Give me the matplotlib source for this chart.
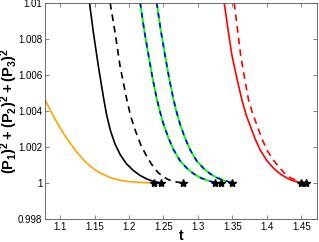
import matplotlib
matplotlib.use('Agg')
import matplotlib.pyplot as plt

plt.rcParams['font.family'] = ['Liberation Sans', 'DejaVu Sans']
plt.rcParams['mathtext.fontset'] = 'custom'
plt.rcParams['mathtext.bf'] = 'Liberation Sans:bold'
plt.rcParams['mathtext.rm'] = 'Liberation Sans'

# curves: t values and (P1)^2+(P2)^2+(P3)^2 values
orange_t = [1.0782, 1.0855, 1.0927, 1.1, 1.107, 1.1145, 1.122, 1.129, 1.136, 1.1436,
            1.151, 1.1581, 1.1725, 1.1871, 1.2015, 1.2162, 1.2365]
orange_y = [1.00461, 1.00406, 1.00355, 1.00306, 1.00262, 1.00222, 1.00182, 1.0015, 1.0012, 1.00094,
            1.00073, 1.00056, 1.0003, 1.00015, 1.00007, 1.00003, 1.0]

black_t = [1.1426, 1.1484, 1.1556, 1.1629, 1.1675, 1.1726, 1.1795, 1.1871, 1.196, 1.2064,
           1.216, 1.2259, 1.236, 1.2467]
black_y = [1.01, 1.00832, 1.00646, 1.00475, 1.00378, 1.00296, 1.00218, 1.00158, 1.00108, 1.00069,
           1.00042, 1.00022, 1.00008, 1.0]

blackd_t = [1.1726, 1.1799, 1.1871, 1.1969, 1.2025, 1.2089, 1.217, 1.2259, 1.2355, 1.2425,
            1.25, 1.2575, 1.2645, 1.279]
blackd_y = [1.01, 1.00832, 1.00646, 1.00461, 1.0037, 1.00294, 1.00212, 1.00146, 1.00088, 1.00057,
            1.00034, 1.00018, 1.00008, 1.0]

green1_t = [1.2162, 1.2222, 1.2282, 1.2343, 1.2404, 1.2442, 1.25, 1.257, 1.2645, 1.274,
            1.284, 1.2935, 1.3033, 1.313, 1.3226, 1.325]
green1_y = [1.01, 1.00845, 1.00711, 1.0058, 1.00466, 1.00406, 1.00328, 1.00252, 1.00186, 1.00124,
            1.00082, 1.00052, 1.0003, 1.00015, 1.00005, 1.0]

green2_t = [1.2402, 1.2462, 1.2522, 1.2583, 1.2644, 1.2682, 1.274, 1.281, 1.2885, 1.298,
            1.308, 1.3175, 1.3273, 1.337, 1.3466, 1.349]
green2_y = [1.01, 1.00845, 1.00711, 1.0058, 1.00466, 1.00406, 1.00328, 1.00252, 1.00186, 1.00124,
            1.00082, 1.00052, 1.0003, 1.00015, 1.00005, 1.0]

red_t = [1.3382, 1.3437, 1.3493, 1.3566, 1.3639, 1.37, 1.3759, 1.383, 1.3904, 1.4,
         1.4098, 1.4195, 1.4292, 1.4376, 1.446, 1.4496]
red_y = [1.01, 1.00852, 1.00711, 1.0058, 1.00461, 1.00378, 1.00318, 1.00245, 1.00183, 1.00125,
         1.00082, 1.0005, 1.00027, 1.00013, 1.00004, 1.0]

redd_t = [1.3527, 1.3575, 1.362, 1.3678, 1.3735, 1.3795, 1.3856, 1.393, 1.4002, 1.4085,
          1.417, 1.4255, 1.434, 1.4455, 1.4572]
redd_y = [1.01, 1.00852, 1.00711, 1.0058, 1.00461, 1.00385, 1.00322, 1.00245, 1.00183, 1.00132,
          1.00091, 1.00055, 1.0003, 1.0001, 1.0]

star_t = [1.2365, 1.2467, 1.279, 1.325, 1.333, 1.3494, 1.4496, 1.4572]
star_y = [1.0] * len(star_t)

xticks = [1.1, 1.15, 1.2, 1.25, 1.3, 1.35, 1.4, 1.45]
yticks = [0.998, 1, 1.002, 1.004, 1.006, 1.008, 1.01]
ytick_labels = ['0.998', '1', '1.002', '1.004', '1.006', '1.008', '1.01']

fig = plt.figure(figsize=(3.19, 2.42), dpi=100)
ax = fig.add_axes([0.141, 0.095, 0.853, 0.893])

ax.plot(orange_t, orange_y, color='#FFA500', lw=1.2)
ax.plot(black_t, black_y, color='black', lw=1.2)
ax.plot(blackd_t, blackd_y, color='black', lw=1.2, ls=(0, (4, 3)))
for gt, gy in [(green1_t, green1_y), (green2_t, green2_y)]:
    ax.plot(gt, gy, color='#00FF00', lw=1.4)
    ax.plot(gt, gy, color='#0000FF', lw=1.2, ls=(0, (3, 3)))
ax.plot(red_t, red_y, color='red', lw=1.2)
ax.plot(redd_t, redd_y, color='red', lw=1.2, ls=(0, (4, 3)))
ax.plot(star_t, star_y, ls='none', marker='*', color='black', ms=6)

ax.set_xlim(1.078, 1.473)
ax.set_ylim(0.998, 1.01)
ax.set_xticks(xticks)
ax.set_xticklabels([str(x) for x in xticks])
ax.set_yticks(yticks)
ax.set_yticklabels(ytick_labels)
ax.tick_params(direction='in', length=3, width=0.5, labelsize=7, top=True, right=True,
               color='#555555', pad=2)
for s in ax.spines.values():
    s.set_linewidth(0.6)
    s.set_color('#555555')

ax.set_xlabel('t', fontsize=10, fontweight='bold')
ax.xaxis.set_label_coords(0.5, -0.045)
ax.set_ylabel(r'$\mathbf{(P_1)^2+(P_2)^2+(P_3)^2}$', fontsize=10.5)
ax.yaxis.set_label_coords(-0.09, 0.5)

fig.savefig('out.png', dpi=100)
